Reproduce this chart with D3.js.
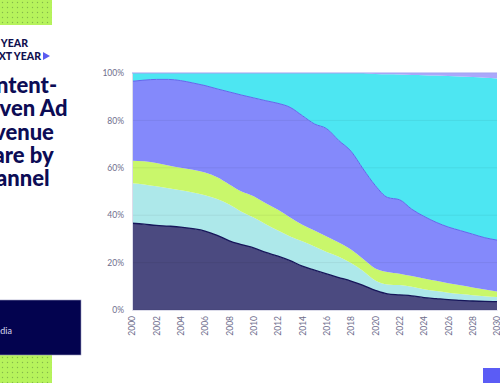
<!DOCTYPE html>
<html>
<head>
<meta charset="utf-8">
<script src="https://cdn.jsdelivr.net/npm/d3@7"></script>
<style>
  body { margin: 0; background: #fff; }
  svg { display: block; font-family: "Lato", "Inter", sans-serif; }
</style>
</head>
<body>
<div id="chart"></div>
<script>
// years on the x axis
var years = d3.range(2000, 2031);

// share of content-driven ad revenue per channel (%), bottom layer first
var print = [36.6, 36.2, 35.7, 35.4, 35.0, 34.3, 33.3, 31.5, 29.2, 27.6, 26.2, 24.3, 22.7, 20.8, 18.5, 16.8,
  15.2, 13.7, 12.2, 10.4, 8.3, 6.8, 6.4, 6.0, 5.2, 4.8, 4.4, 4.1, 3.8, 3.6, 3.5];
var radio = [16.9, 16.8, 16.5, 16.0, 15.5, 15.3, 15.1, 15.3, 15.3, 13.9, 12.8, 11.9, 10.8, 10.2, 10.5, 10.0,
  9.3, 8.8, 7.6, 6.1, 4.2, 4.0, 4.1, 3.8, 3.6, 3.2, 2.9, 2.6, 2.4, 2.2, 2.0];
var outOfHome = [9.5, 9.8, 9.8, 9.6, 9.5, 9.6, 9.6, 9.2, 8.5, 8.5, 9.0, 8.8, 8.8, 8.0, 7.0, 6.7,
  6.5, 6.0, 5.7, 5.0, 5.0, 5.2, 4.8, 4.5, 4.5, 4.3, 4.0, 3.7, 3.3, 2.8, 2.3];
var tv = [33.5, 34.2, 35.3, 36.3, 36.8, 36.6, 36.7, 37.3, 39.0, 40.7, 41.5, 43.3, 44.9, 46.5, 46.0, 45.0,
  45.5, 43.0, 41.5, 38.0, 35.0, 31.5, 31.2, 28.2, 26.2, 24.7, 23.7, 23.1, 22.5, 21.9, 21.7];
var digital = [3.5, 3.0, 2.7, 2.7, 3.2, 4.2, 5.3, 6.7, 8.0, 9.3, 10.5, 11.7, 12.8, 14.5, 18.0, 21.5,
  23.5, 28.5, 33.0, 40.5, 47.1, 52.0, 52.9, 56.7, 59.6, 61.9, 63.7, 65.0, 66.3, 67.5, 68.2];
var other = [0, 0, 0, 0, 0, 0, 0, 0, 0, 0, 0, 0, 0, 0, 0, 0,
  0, 0, 0, 0, 0.4, 0.5, 0.6, 0.8, 0.9, 1.1, 1.3, 1.5, 1.7, 2.0, 2.3];

var keys = ["print", "radio", "outOfHome", "tv", "digital", "other"];
var colors = ["#4b4a80", "#ade8ea", "#c9f76b", "#8489fb", "#4de6f2", "#aaa8fb"];
var yTicks = [0, 20, 40, 60, 80, 100];
var titleLines = ["Content-", "Driven Ad", "Revenue", "Share by", "Channel"];

var rows = years.map(function(y, i) {
  return { year: y, print: print[i], radio: radio[i], outOfHome: outOfHome[i],
    tv: tv[i], digital: digital[i], other: other[i] };
});

var W = 500, H = 383;
var margin = { top: 73, right: 3, bottom: 73, left: 132 };
var width = W - margin.left - margin.right;
var height = H - margin.top - margin.bottom;

var svg = d3.select("#chart").append("svg")
  .attr("width", W)
  .attr("height", H);

// dotted lime pattern for the decorative boxes
var defs = svg.append("defs");
var pat = defs.append("pattern")
  .attr("id", "dots")
  .attr("width", 5).attr("height", 5)
  .attr("patternUnits", "userSpaceOnUse");
pat.append("rect").attr("width", 5).attr("height", 5).attr("fill", "#b6f35c");
pat.append("circle").attr("cx", 2.5).attr("cy", 2.5).attr("r", 0.7).attr("fill", "#86b94a");

svg.append("rect").attr("x", 0).attr("y", 0).attr("width", 52).attr("height", 25).attr("fill", "url(#dots)");
svg.append("rect").attr("x", 0).attr("y", 355).attr("width", 52).attr("height", 28).attr("fill", "url(#dots)");

// brand lines, cut off by the left edge
svg.append("text").attr("x", 28).attr("y", 47)
  .attr("text-anchor", "end")
  .style("font-size", "10.5px").style("font-weight", 900).attr("fill", "#10104f")
  .text("THIS YEAR");
svg.append("text").attr("x", 41).attr("y", 60)
  .attr("text-anchor", "end")
  .style("font-size", "10.5px").style("font-weight", 900).attr("fill", "#10104f")
  .text("NEXT YEAR");
svg.append("path").attr("d", "M43,52 L50,56 L43,60 Z").attr("fill", "#5a5cf0");

// title
svg.append("g").selectAll("text")
  .data(titleLines)
  .join("text")
  .attr("x", -31)
  .attr("y", function(d, i) { return 93 + i * 23.3; })
  .style("font-size", "22px").style("font-weight", 900)
  .attr("fill", "#0c0c55")
  .text(function(d) { return d; });

// dark source box
svg.append("rect").attr("x", -1).attr("y", 300).attr("width", 82).attr("height", 55)
  .attr("fill", "#03034f").attr("stroke", "#9a9ac0").attr("stroke-width", 0.6);
svg.append("text").attr("x", 12).attr("y", 334)
  .attr("text-anchor", "end")
  .style("font-size", "9px").attr("fill", "#d8d8ee")
  .text("Source: Media");

// blue corner square
svg.append("rect").attr("x", 483).attr("y", 368).attr("width", 17).attr("height", 15).attr("fill", "#5b5cf5");

var g = svg.append("g").attr("transform", "translate(" + margin.left + "," + margin.top + ")");

var x = d3.scaleLinear().domain([2000, 2030]).range([0, width]);
var y = d3.scaleLinear().domain([0, 100]).range([height, 0]);

var series = d3.stack().keys(keys)(rows);

var area = d3.area()
  .curve(d3.curveMonotoneX)
  .x(function(d) { return x(d.data.year); })
  .y0(function(d) { return y(d[0]); })
  .y1(function(d) { return y(d[1]); });

g.selectAll("path.layer")
  .data(series)
  .join("path")
  .attr("class", "layer")
  .attr("fill", function(d, i) { return colors[i]; })
  .attr("d", area);

// gridlines (drawn over the areas, very faint)
g.append("g")
  .selectAll("line")
  .data(yTicks)
  .join("line")
  .attr("x1", 0).attr("x2", width)
  .attr("y1", function(d) { return y(d); })
  .attr("y2", function(d) { return y(d); })
  .attr("stroke", "#000")
  .attr("stroke-opacity", 0.06);

// top edge lines of print and tv
var topLine = d3.line()
  .curve(d3.curveMonotoneX)
  .x(function(d) { return x(d.data.year); })
  .y(function(d) { return y(d[1]); });

g.append("path").datum(series[0])
  .attr("fill", "none").attr("stroke", "#16165a").attr("stroke-width", 1.3)
  .attr("d", topLine);
g.append("path").datum(series[3])
  .attr("fill", "none").attr("stroke", "#6366ec").attr("stroke-width", 1)
  .attr("d", topLine);
g.append("line").attr("x1", 0).attr("x2", width).attr("y1", 0).attr("y2", 0)
  .attr("stroke", "#a9a7f8").attr("stroke-width", 1);

// axes
var yAxis = g.append("g")
  .call(d3.axisLeft(y).tickValues(yTicks).tickSize(0).tickPadding(8).tickFormat(function(d) { return d + "%"; }));
yAxis.select(".domain").attr("stroke", "#dcdcea");
yAxis.selectAll("text").style("font-size", "8.5px").attr("fill", "#6e6e8c")
  .style("font-family", "Lato, sans-serif");

var xAxis = g.append("g")
  .attr("transform", "translate(0," + height + ")")
  .call(d3.axisBottom(x).tickValues(d3.range(2000, 2031, 2)).tickSize(0).tickFormat(d3.format("d")));
xAxis.select(".domain").attr("stroke", "#dcdcea");
xAxis.selectAll("text")
  .style("font-size", "8.5px").attr("fill", "#6e6e8c")
  .style("font-family", "Lato, sans-serif")
  .attr("text-anchor", "end")
  .attr("transform", "rotate(-90)")
  .attr("x", -6).attr("y", 0).attr("dy", "0.32em");
</script>
</body>
</html>
